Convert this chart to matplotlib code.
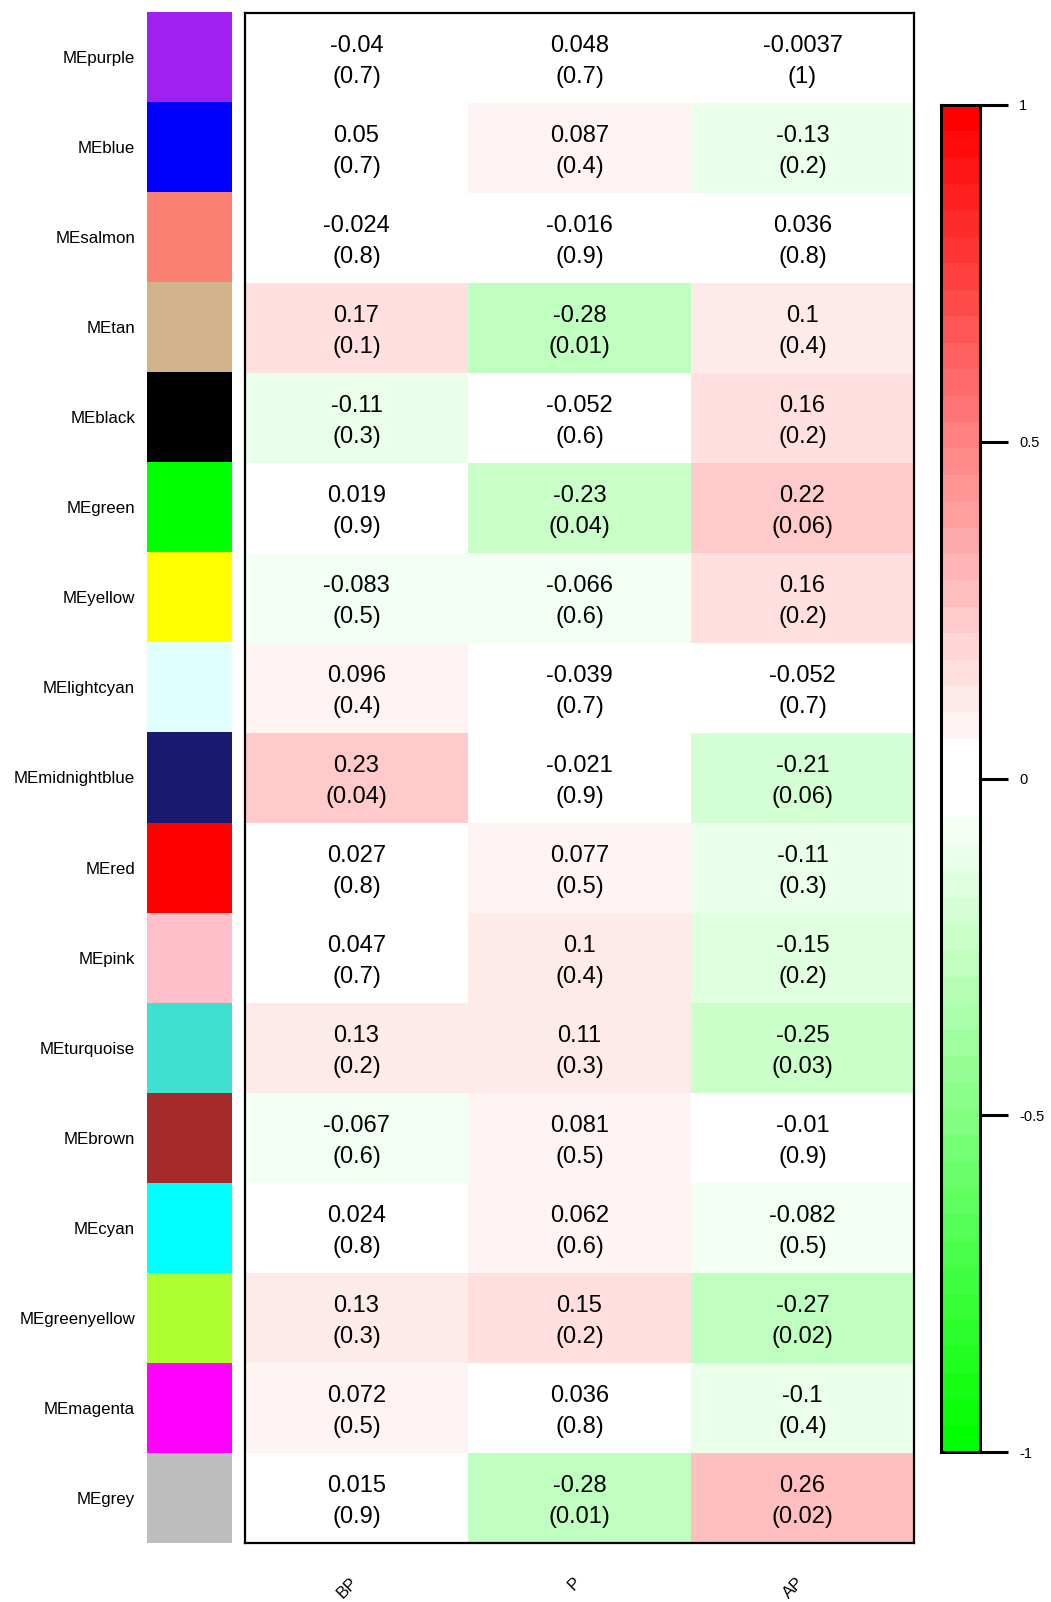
import numpy as np
import matplotlib
matplotlib.use("Agg")
import matplotlib.pyplot as plt
from matplotlib.colors import ListedColormap, BoundaryNorm

plt.rcParams['font.family'] = ['Liberation Sans', 'DejaVu Sans']

modules = ["MEpurple", "MEblue", "MEsalmon", "MEtan", "MEblack", "MEgreen", "MEyellow",
           "MElightcyan", "MEmidnightblue", "MEred", "MEpink", "MEturquoise", "MEbrown",
           "MEcyan", "MEgreenyellow", "MEmagenta", "MEgrey"]
module_colors = ["#A020F0", "#0000FF", "#FA8072", "#D2B48C", "#000000", "#00FF00", "#FFFF00",
                 "#E0FFFF", "#191970", "#FF0000", "#FFC0CB", "#40E0D0", "#A52A2A",
                 "#00FFFF", "#ADFF2F", "#FF00FF", "#BEBEBE"]
traits = ["BP", "P", "AP"]

cor_BP = [-0.04, 0.05, -0.024, 0.17, -0.11, 0.019, -0.083, 0.096, 0.23, 0.027, 0.047, 0.13,
          -0.067, 0.024, 0.13, 0.072, 0.015]
p_BP = [0.7, 0.7, 0.8, 0.1, 0.3, 0.9, 0.5, 0.4, 0.04, 0.8, 0.7, 0.2, 0.6, 0.8, 0.3, 0.5, 0.9]
cor_P = [0.048, 0.087, -0.016, -0.28, -0.052, -0.23, -0.066, -0.039, -0.021, 0.077, 0.1, 0.11,
         0.081, 0.062, 0.15, 0.036, -0.28]
p_P = [0.7, 0.4, 0.9, 0.01, 0.6, 0.04, 0.6, 0.7, 0.9, 0.5, 0.4, 0.3, 0.5, 0.6, 0.2, 0.8, 0.01]
cor_AP = [-0.0037, -0.13, 0.036, 0.1, 0.16, 0.22, 0.16, -0.052, -0.21, -0.11, -0.15, -0.25,
          -0.01, -0.082, -0.27, -0.1, 0.26]
p_AP = [1, 0.2, 0.8, 0.4, 0.2, 0.06, 0.2, 0.7, 0.06, 0.3, 0.2, 0.03, 0.9, 0.5, 0.02, 0.4, 0.02]

cbar_ticks = [-1, -0.5, 0, 0.5, 1]

cor = np.array([cor_BP, cor_P, cor_AP]).T
pv = np.array([p_BP, p_P, p_AP]).T
nrow, ncol = cor.shape

# green-white-red discrete palette (WGCNA style)
half = 25
g_side = [(t, 1.0, t) for t in np.linspace(0, 1, half)]
r_side = [(1.0, t, t) for t in np.linspace(1, 0, half)]
cols = g_side + [(1.0, 1.0, 1.0)] + r_side
cmap = ListedColormap(cols)
bounds = np.linspace(-1, 1, len(cols) + 1)
norm = BoundaryNorm(bounds, cmap.N)

W, H = 1051, 1602
fig = plt.figure(figsize=(W / 100, H / 100), dpi=100)

def px_axes(x0, y0, x1, y1):
    return fig.add_axes([x0 / W, 1 - y1 / H, (x1 - x0) / W, (y1 - y0) / H])

top, bot = 13, 1543
# heatmap
ax = px_axes(245, top, 914, bot)
ax.pcolormesh(np.arange(ncol + 1), np.arange(nrow + 1), cor, cmap=cmap, norm=norm)
ax.set_xlim(0, ncol)
ax.set_ylim(nrow, 0)
ax.set_xticks([])
ax.set_yticks([])
for s in ax.spines.values():
    s.set_linewidth(1.6)
rh_px = (bot - top) / nrow
off = 15.5 / rh_px
shift = 3.0 / rh_px
for i in range(nrow):
    for j in range(ncol):
        ax.text(j + 0.5, i + 0.5 - off + shift, f"{cor[i, j]:g}", ha='center', va='center', fontsize=17)
        ax.text(j + 0.5, i + 0.5 + off + shift, f"({pv[i, j]:g})", ha='center', va='center', fontsize=17)
for j, t in enumerate(traits):
    ax.annotate(t, xy=(j + 0.5, nrow), xycoords='data', xytext=(4, -32),
                textcoords='offset pixels', rotation=45, ha='right', va='top', fontsize=12)

# module colour column
axc = px_axes(147, top - 1, 232, bot)
for i, c in enumerate(module_colors):
    axc.bar(0.5, 1, bottom=i, width=1, color=c, edgecolor='none')
axc.set_xlim(0, 1)
axc.set_ylim(nrow, 0)
axc.set_xticks([])
axc.set_yticks(np.arange(nrow) + 0.5)
axc.set_yticklabels(modules, fontsize=12.2)
axc.tick_params(axis='y', length=0, pad=8.6)
for s in axc.spines.values():
    s.set_visible(False)

# colorbar
axb = px_axes(941, 105, 980, 1452)
mids = np.array([[(a + b) / 2] for a, b in zip(bounds[:-1], bounds[1:])])
axb.pcolormesh([0, 1], bounds, mids, cmap=cmap, norm=norm)
axb.set_xlim(0, 1)
axb.set_ylim(-1, 1)
axb.set_xticks([])
axb.yaxis.tick_right()
axb.set_yticks(cbar_ticks)
axb.set_yticklabels([f"{t:g}" for t in cbar_ticks], fontsize=10.5)
axb.tick_params(axis='y', length=20, width=2.2, pad=8)
for s in axb.spines.values():
    s.set_linewidth(2.2)

fig.savefig("out.png", dpi=100, facecolor='white')
